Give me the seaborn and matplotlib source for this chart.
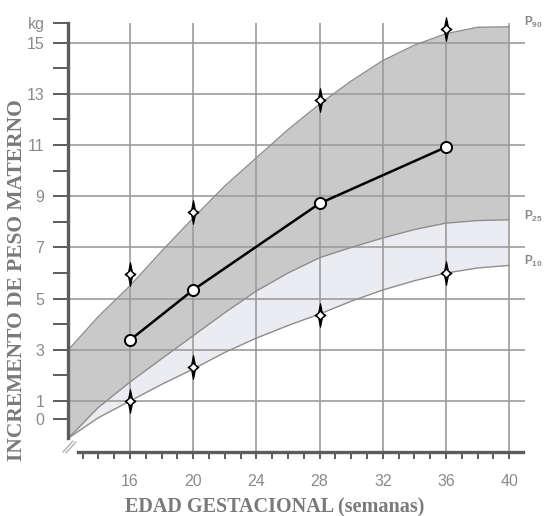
import numpy as np
import pandas as pd
import matplotlib
matplotlib.use('Agg')
import matplotlib.pyplot as plt
import seaborn as sns
from matplotlib.path import Path
from matplotlib.lines import Line2D

# ---------------- data ----------------
weeks = [12.1, 14, 16, 18, 20, 22, 24, 26, 28, 30, 32, 34, 36, 38, 40]
p90 = [3.0, 4.3, 5.5, 6.85, 8.15, 9.4, 10.5, 11.6, 12.6, 13.5, 14.3, 14.9, 15.35, 15.6, 15.62]
p25 = [-0.45, 0.75, 1.74, 2.65, 3.55, 4.45, 5.3, 6.0, 6.6, 7.0, 7.37, 7.7, 7.95, 8.05, 8.08]
p10 = [-0.45, 0.35, 1.0, 1.65, 2.25, 2.9, 3.46, 3.95, 4.4, 4.9, 5.34, 5.7, 6.0, 6.2, 6.3]

obs_weeks = [16, 20, 28, 36]
mean_gain = [3.38, 5.34, 8.72, 10.92]
upper_obs = [5.96, 8.38, 12.76, 15.53]
lower_obs = [1.0, 2.33, 4.36, 6.0]

x_ticks = [16, 20, 24, 28, 32, 36, 40]
x_tick_labels = ['16', '20', '24', '28', '32', '36', '40']
y_grid_values = [1, 3, 5, 7, 9, 11, 13, 15]
y_tick_labels = ['0', '1', '3', '5', '7', '9', '11', '13', '15', 'kg']
pct_labels = ['90', '25', '10']

# ---------------- style ----------------
sns.set_style('white')
plt.rcParams['font.family'] = ['Liberation Sans', 'DejaVu Sans']
plt.rcParams['mathtext.fontset'] = 'custom'
plt.rcParams['mathtext.rm'] = 'Liberation Sans'

W, H = 545, 516
fig = plt.figure(figsize=(W / 100, H / 100), dpi=100)
fig.patch.set_facecolor('white')

def fx(px):
    return px / W

def fy(py):
    return 1 - py / H

ax = fig.add_axes([fx(68), fy(452), fx(525) - fx(68), fy(15) - fy(452)])
ax.set_facecolor('white')
ax.set_xlim(12.08, 41.0)
ax.set_ylim(-0.99, 16.08)

axis_col = '#5c5c5c'
grid_col = '#9c9c9c'
text_col = '#8a8a8a'

# bands
ax.fill_between(weeks, p25, p90, color='#c9c9c9', lw=0, zorder=1)
ax.fill_between(weeks, p10, p25, color='#ebebf2', lw=0, zorder=1)

# grid
for v in y_grid_values:
    ax.plot([12.08, 41.0], [v, v], color=grid_col, lw=1.2, zorder=2, solid_capstyle='butt')
ax.vlines(x_ticks, -0.99, 15.77, color=grid_col, lw=1.2, zorder=2)

# percentile curves
df_curves = pd.DataFrame({'week': weeks, 'p90': p90, 'p25': p25, 'p10': p10})
for c in ['p90', 'p25', 'p10']:
    sns.lineplot(data=df_curves, x='week', y=c, ax=ax, color='#8e8e8e', lw=1.0,
                 zorder=2.5, sort=False, estimator=None)

# mean line with open circles
df_mean = pd.DataFrame({'week': obs_weeks, 'gain': mean_gain})
sns.lineplot(data=df_mean, x='week', y='gain', ax=ax, color='black', lw=1.8,
             marker='o', markersize=8, markerfacecolor='white',
             markeredgecolor='black', markeredgewidth=1.4, zorder=4,
             estimator=None)

# star markers
star = Path([(0, 1), (0.16, 0.22), (0.46, 0), (0.16, -0.22), (0, -1),
             (-0.16, -0.22), (-0.46, 0), (-0.16, 0.22), (0, 1)],
            [Path.MOVETO] + [Path.LINETO] * 7 + [Path.CLOSEPOLY])
df_stars = pd.DataFrame({'week': obs_weeks * 2, 'val': upper_obs + lower_obs})
sns.scatterplot(data=df_stars, x='week', y='val', ax=ax, marker=star, s=17 ** 2,
                color='black', edgecolor='black', linewidth=0.8, zorder=5)
sns.scatterplot(data=df_stars, x='week', y='val', ax=ax, marker='D', s=12,
                color='white', edgecolor='white', linewidth=0, zorder=6)

# axes / spines
for s in ['top', 'right']:
    ax.spines[s].set_visible(False)
ax.spines['left'].set_bounds(-0.445, 15.77)
ax.spines['left'].set_linewidth(2.4)
ax.spines['left'].set_color(axis_col)
ax.spines['left'].set_zorder(3)
ax.spines['bottom'].set_bounds(12.71, 40.87)
ax.spines['bottom'].set_linewidth(2.4)
ax.spines['bottom'].set_color(axis_col)

ax.set_xticks(x_ticks, x_tick_labels)
ax.set_xticks(list(range(13, 41)), minor=True)
ax.tick_params(axis='x', which='both', bottom=True, direction='out', length=5, width=1.4,
               color=axis_col, labelsize=11.5, labelcolor=text_col, pad=11)

ax.set_yticks([0.3, 1, 3, 5, 7, 9, 11, 13, 15, 15.77], y_tick_labels)
ax.set_yticks([2, 4, 6, 8, 10, 12, 14], minor=True)
ax.tick_params(axis='y', which='both', left=True, direction='out', length=11, width=1.4,
               color=axis_col, labelsize=11.5, labelcolor=text_col, pad=6)
ax.set_xlabel('')
ax.set_ylabel('')

# percentile labels on the right
for lab, yv in zip(pct_labels, [p90[-1], p25[-1], p10[-1]]):
    ax.text(40.95, yv + 0.15, r'P$_{\mathregular{%s}}$' % lab, color='#8a8a8a',
            fontsize=8.5, fontweight='bold', ha='left', va='center', clip_on=False)

# axis titles
fig.text(fx(275), fy(507), 'EDAD GESTACIONAL (semanas)', family='Liberation Serif',
         fontweight='bold', fontsize=14.5, color='#7a7a7a', ha='center', va='center')
fig.text(fx(17), fy(280), 'INCREMENTO DE PESO MATERNO', family='Liberation Serif',
         fontweight='bold', fontsize=15.5, color='#7a7a7a', ha='center', va='center',
         rotation=90)

# axis break marks
for dx in (0, 3):
    fig.add_artist(Line2D([fx(63 + dx), fx(73 + dx)], [fy(452 + dx * 0.3), fy(441 + dx * 0.3)],
                          color='#b0b0b0', lw=1.0))

fig.savefig('out.png', dpi=100, facecolor='white')
